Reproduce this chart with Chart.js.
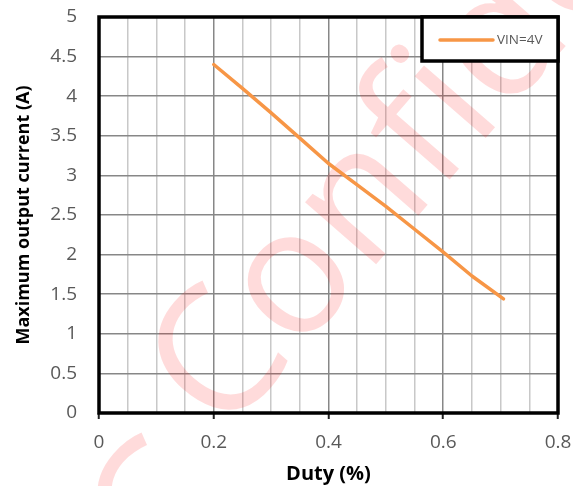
<!DOCTYPE html>
<html>
<head>
<meta charset="utf-8">
<script src="https://cdn.jsdelivr.net/npm/chart.js@4/dist/chart.umd.min.js"></script>
<style>
  html, body { margin: 0; padding: 0; background: #ffffff; }
  #wrap { position: relative; width: 573px; height: 486px; }
</style>
</head>
<body>
<div id="wrap"><canvas id="c" width="573" height="486"></canvas></div>
<script>
// ---- data ----
const duty = [0.2, 0.25, 0.3, 0.35, 0.4, 0.45, 0.5, 0.55, 0.6, 0.65, 0.705];
const maxCurrent = [4.40, 4.10, 3.79, 3.47, 3.15, 2.88, 2.61, 2.32, 2.03, 1.73, 1.44];
const seriesLabel = 'VIN=4V';
const xTickLabels = ['0', '0.2', '0.4', '0.6', '0.8'];
const yTickLabels = ['0', '0.5', '1', '1.5', '2', '2.5', '3', '3.5', '4', '4.5', '5'];
const xTitle = 'Duty (%)';
const yTitle = 'Maximum output current (A)';
const watermarkText = 'Confidential';
const watermarkLead = 'C';

const points = duty.map((d, i) => ({ x: d, y: maxCurrent[i] }));

const ORANGE = '#F79646';
const TICK_GRAY = '#595959';

function isMajorX(v) {
  const r = v / 0.2;
  return Math.abs(r - Math.round(r)) < 1e-6;
}

const watermarkPlugin = {
  id: 'watermark',
  beforeDatasetsDraw(chart) {
    const ctx = chart.ctx;
    const fs = 176;
    const ang = -49 * Math.PI / 180;
    ctx.save();
    ctx.font = `400 ${fs}px "Open Sans"`;
    ctx.fillStyle = 'rgba(255,0,0,0.14)';
    ctx.textBaseline = 'alphabetic';
    ctx.textAlign = 'left';
    ctx.translate(213, 356);
    ctx.rotate(ang);
    const wC = ctx.measureText('C').width;
    ctx.fillText(watermarkText, -wC / 2, fs * 0.357);
    ctx.restore();
    ctx.save();
    ctx.font = `400 ${fs}px "Open Sans"`;
    ctx.fillStyle = 'rgba(255,0,0,0.14)';
    ctx.textBaseline = 'alphabetic';
    ctx.textAlign = 'left';
    ctx.translate(152, 508);
    ctx.rotate(ang);
    const w2 = ctx.measureText(watermarkLead).width;
    ctx.fillText(watermarkLead, -w2 / 2, fs * 0.357);
    ctx.restore();
  }
};

const framePlugin = {
  id: 'frame',
  afterDraw(chart) {
    const ctx = chart.ctx;
    const a = chart.chartArea;
    ctx.save();
    ctx.strokeStyle = '#000000';
    ctx.lineWidth = 3.5;
    ctx.strokeRect(a.left, a.top, a.right - a.left, a.bottom - a.top);
    const lx = 422, ly = a.top, lw = a.right - 422, lh = 44;
    ctx.fillStyle = '#ffffff';
    ctx.fillRect(lx, ly, lw, lh);
    ctx.strokeRect(lx, ly, lw, lh);
    ctx.strokeStyle = ORANGE;
    ctx.lineWidth = 3.5;
    ctx.lineCap = 'round';
    ctx.beginPath();
    ctx.moveTo(440, ly + 23);
    ctx.lineTo(493, ly + 23);
    ctx.stroke();
    ctx.fillStyle = TICK_GRAY;
    ctx.font = '13.5px "Open Sans"';
    ctx.textBaseline = 'middle';
    ctx.textAlign = 'left';
    ctx.fillText(chart.data.datasets[0].label, 497, ly + 23);
    ctx.restore();
  }
};

new Chart(document.getElementById('c'), {
  type: 'scatter',
  data: {
    datasets: [{
      label: seriesLabel,
      data: points,
      showLine: true,
      borderColor: ORANGE,
      backgroundColor: ORANGE,
      borderWidth: 3.5,
      borderCapStyle: 'round',
      borderJoinStyle: 'round',
      pointRadius: 0,
      pointHoverRadius: 0,
      tension: 0
    }]
  },
  options: {
    responsive: false,
    animation: false,
    events: [],
    layout: { padding: { left: 0, right: 15, top: 17, bottom: 0 } },
    plugins: {
      legend: { display: false },
      tooltip: { enabled: false }
    },
    scales: {
      x: {
        type: 'linear',
        min: 0,
        max: 0.8,
        afterFit(s) { s.height = 73; s.paddingLeft = 0; s.paddingRight = 0; },
        border: { display: false },
        grid: {
          drawTicks: true,
          tickLength: 6,
          lineWidth: 1.5,
          color: (c) => isMajorX(c.tick.value) ? '#878787' : '#c8c8c8',
          tickColor: (c) => isMajorX(c.tick.value) ? '#222222' : 'rgba(0,0,0,0)',
          tickWidth: 2
        },
        ticks: {
          stepSize: 0.05,
          autoSkip: false,
          maxRotation: 0,
          padding: 12,
          color: TICK_GRAY,
          font: { family: '"Open Sans"', size: 19 },
          callback: (v) => isMajorX(v) ? xTickLabels[Math.round(v / 0.2)] : ''
        },
        title: {
          display: true,
          text: xTitle,
          color: '#000000',
          font: { family: '"Open Sans"', size: 20, weight: 'bold' },
          padding: { top: 0, bottom: 0 }
        }
      },
      y: {
        type: 'linear',
        min: 0,
        max: 5,
        afterFit(s) { s.width = 99; s.paddingTop = 0; s.paddingBottom = 0; },
        border: { display: false },
        grid: {
          drawTicks: false,
          lineWidth: 1.5,
          color: '#878787'
        },
        ticks: {
          stepSize: 0.5,
          padding: 22,
          color: TICK_GRAY,
          font: { family: '"Open Sans"', size: 19 },
          callback: (v) => yTickLabels[Math.round(v / 0.5)]
        },
        title: {
          display: true,
          text: yTitle,
          color: '#000000',
          font: { family: '"Open Sans"', size: 18, weight: 'bold' },
          padding: { top: 13, bottom: 0 }
        }
      }
    }
  },
  plugins: [watermarkPlugin, framePlugin]
});
</script>
</body>
</html>
